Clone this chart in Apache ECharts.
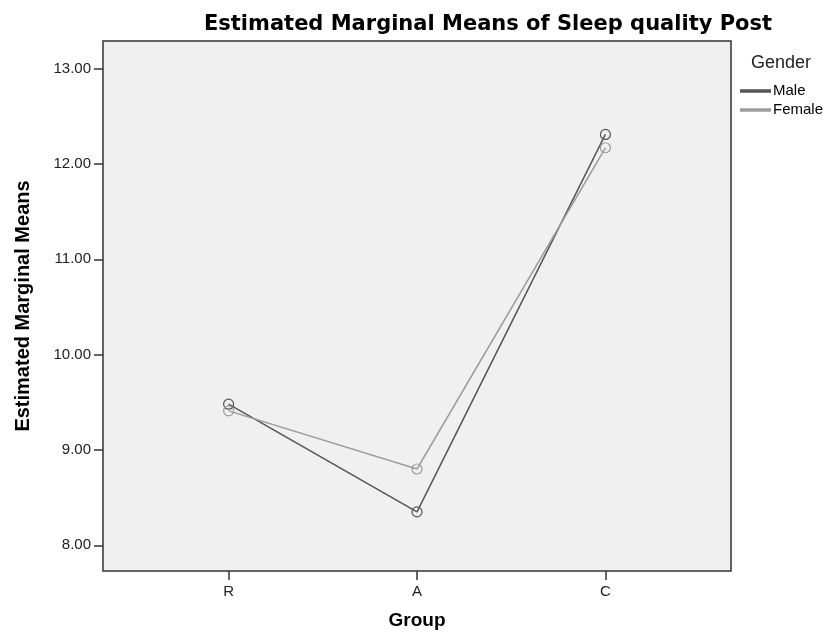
<!DOCTYPE html>
<html>
<head>
<meta charset="utf-8">
<script src="https://cdn.jsdelivr.net/npm/echarts@6/dist/echarts.min.js"></script>
<style>html,body{margin:0;padding:0;background:#fff;}#c{width:823px;height:633px;}</style>
</head>
<body>
<div id="c"></div>
<script>
const groups = ['R', 'A', 'C'];
const maleValues = [9.48, 8.35, 12.31];
const femaleValues = [9.41, 8.80, 12.17];
const yTicks = [8, 9, 10, 11, 12, 13];
const seriesNames = ['Male', 'Female'];

const chart = echarts.init(document.getElementById('c'));
const font = 'Arial, "Liberation Sans", sans-serif';
const colors = { Male: '#555555', Female: '#9c9c9c' };
function pts(vals) { return vals.map((v, i) => [i, v]); }
function mk(name, vals) {
  const color = colors[name];
  return {
    name: name, type: 'line', data: pts(vals),
    symbol: 'circle', symbolSize: 10,
    lineStyle: { color: color, width: 1.5 },
    itemStyle: { color: 'rgba(0,0,0,0)', borderColor: color, borderWidth: 1.2 },
    emphasis: { disabled: true }, z: 3
  };
}
chart.setOption({
  animation: false,
  backgroundColor: '#ffffff',
  title: [
    { text: 'Estimated Marginal Means of Sleep quality Post', left: 483, top: 9, textAlign: 'center',
      textStyle: { fontFamily: 'DejaVu Sans', fontWeight: 'bold', fontSize: 21, color: '#000' } },
    { text: 'Gender', left: 746, top: 49,
      textStyle: { fontFamily: font, fontWeight: 'normal', fontSize: 18, color: '#222' } }
  ],
  legend: {
    orient: 'vertical', left: 735, top: 78, itemGap: 3, itemWidth: 29, itemHeight: 1.5,
    icon: 'rect',
    data: seriesNames.map(n => ({ name: n, itemStyle: { color: colors[n] } })),
    textStyle: { fontFamily: font, fontSize: 15, lineHeight: 16, color: '#000', padding: [0, 0, 0, -2] },
    selectedMode: false
  },
  grid: { left: 103, top: 41, width: 628, height: 530, backgroundColor: '#f0f0f0', show: true,
          borderColor: '#333', borderWidth: 1.5, containLabel: false, outerBoundsMode: 'none' },
  xAxis: {
    type: 'value', min: -2/3, max: 8/3,
    name: 'Group', nameLocation: 'middle', nameGap: 40,
    nameTextStyle: { fontFamily: font, fontWeight: 'bold', fontSize: 19, color: '#000' },
    axisLine: { show: false, onZero: false },
    axisTick: { show: true, length: 9, lineStyle: { color: '#333', width: 1.5 }, customValues: [0, 1, 2] },
    axisLabel: { customValues: [0, 1, 2], formatter: v => groups[Math.round(v)] || '',
                 fontFamily: font, fontSize: 15, color: '#222', margin: 13 },
    splitLine: { show: false }
  },
  yAxis: {
    type: 'value', min: 7.73, max: 13.29,
    name: 'Estimated Marginal Means', nameLocation: 'middle', nameGap: 70, nameRotate: 90,
    nameTextStyle: { fontFamily: font, fontWeight: 'bold', fontSize: 20, color: '#000' },
    axisLine: { show: false, onZero: false },
    axisTick: { show: true, length: 9, lineStyle: { color: '#333', width: 1.5 }, customValues: yTicks },
    axisLabel: { customValues: yTicks, formatter: v => v.toFixed(2),
                 fontFamily: font, fontSize: 15, color: '#222', margin: 12 },
    splitLine: { show: false }
  },
  series: [mk('Male', maleValues), mk('Female', femaleValues)]
});
</script>
</body>
</html>
